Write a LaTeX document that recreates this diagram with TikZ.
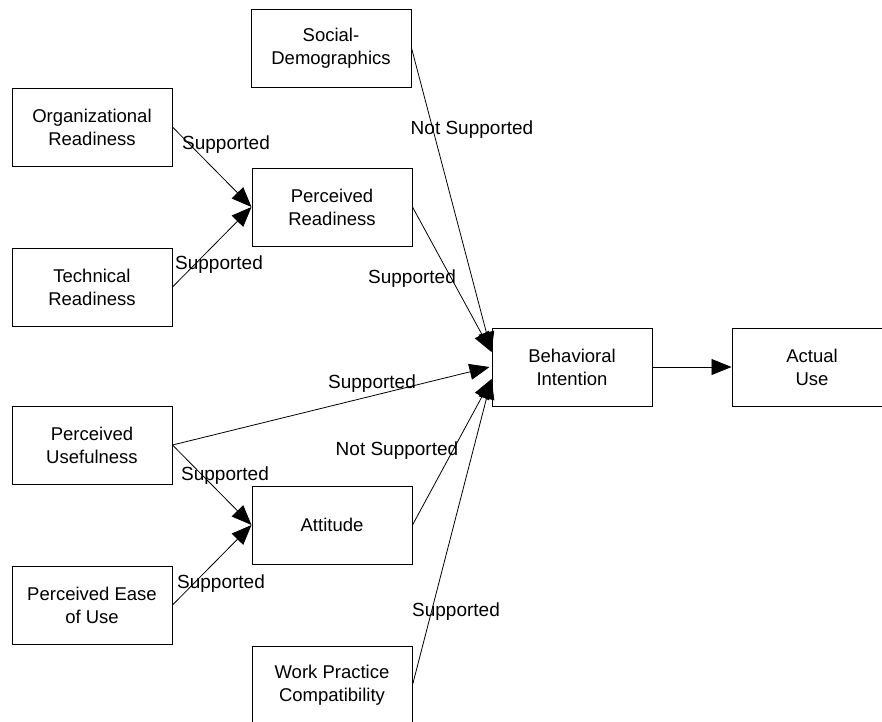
\documentclass[tikz,border=0pt]{standalone}
\usepackage{fontspec}
\setmainfont{Liberation Sans}
\usetikzlibrary{arrows.meta}
\tikzset{bx/.style = {rectangle, draw, line width=1pt, minimum width=160pt, minimum height=78pt,
                      inner sep=0pt, align=center, font=\fontsize{18.5}{23}\selectfont},
         lb/.style = {inner sep=0pt, font=\fontsize{19}{22}\selectfont}}

\begin{document}
\begin{tikzpicture}[x=1pt, y=-1pt, >={Triangle[length=20pt, width=16pt]}, line width=0.8pt]
    \useasboundingbox (0,0) rectangle (882,721);
    \node[bx] (soc) at (331,48)  {Social-\\Demographics};
    \node[bx] (org) at (92,127)  {Organizational\\Readiness};
    \node[bx] (pr)  at (332,207) {Perceived\\Readiness};
    \node[bx] (tec) at (92,287)  {Technical\\Readiness};
    \node[bx] (bi)  at (572,367) {Behavioral\\Intention};
    \node[bx] (au)  at (812,367) {Actual\\Use};
    \node[bx] (pu)  at (92,445)  {Perceived\\Usefulness};
    \node[bx] (att) at (332,525) {Attitude};
    \node[bx] (peu) at (92,605)  {Perceived Ease\\of Use};
    \node[bx] (wpc) at (332,685) {Work Practice\\Compatibility};
    \coordinate (bitop) at ([yshift=15pt]bi.west);
    \coordinate (bimid) at ([xshift=-2pt]bi.west);
    \coordinate (bibot) at ([yshift=-12pt]bi.west);
    % labels
    \node[lb] (l1) at (226,145) {Supported};
    \node[lb] (l2) at (219,265) {Supported};
    \node[lb] (l3) at (472,130) {Not Supported};
    \node[lb] (l4) at (412,279) {Supported};
    \node[lb] (l5) at (372,384) {Supported};
    \node[lb] (l6) at (397,451) {Not Supported};
    \node[lb] (l7) at (225,476) {Supported};
    \node[lb] (l8) at (221,584) {Supported};
    \node[lb] (l9) at (456,612) {Supported};
    \draw[->] (org.east) -- (pr.west);
    \draw[->] (tec.east) -- (pr.west);
    \draw[->] (soc.east) -- (bitop);
    \draw[->] (pr.east)  -- (bitop);
    \draw[->] (pu.east)  -- (bimid);
    \draw[->] (att.east) -- (bibot);
    \draw[->] (wpc.east) -- (bibot);
    \draw[->] (pu.east)  -- (att.west);
    \draw[->] (peu.east) -- (att.west);
    \draw[->] (bi.east)  -- (au.west);
\end{tikzpicture}
\end{document}
